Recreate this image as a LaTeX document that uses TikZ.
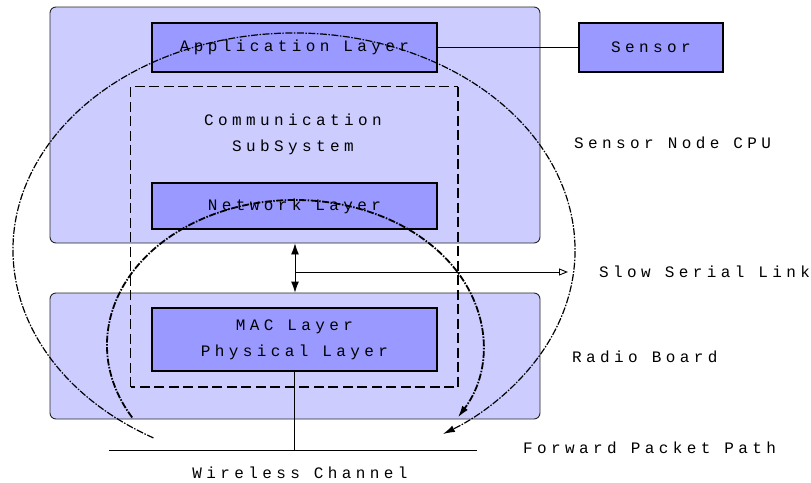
\documentclass[tikz,border=0pt]{standalone}
\usepackage{fontspec}
\newfontfamily\lblfont[LetterSpace=27.5]{Liberation Mono}
\usetikzlibrary{arrows.meta}
\definecolor{boardfill}{RGB}{204,204,255}
\definecolor{layerfill}{RGB}{153,153,255}

\begin{document}
\begin{tikzpicture}[x=1pt,y=-1pt,
  every node/.style={font=\lblfont\fontsize{16}{26}\selectfont, inner sep=0pt},
  board/.style={draw=black!85, line width=0.9pt, fill=boardfill, rounded corners=6pt,
    minimum width=490pt},
  layer/.style={draw=black, line width=1.2pt, fill=layerfill, minimum width=285pt, align=center},
  plain/.style={draw=black, line width=0.9pt},
  subsys/.style={line width=0.9pt, dash pattern=on 10pt off 4.5pt},
  subsysheavy/.style={line width=2pt, dash pattern=on 10pt off 4.5pt},
  pathwide/.style={line width=1.2pt, dash pattern=on 7pt off 1.5pt on 1.5pt off 1.5pt,
    -{Latex[length=12pt,width=7pt]}},
  pathnarrow/.style={line width=1.8pt, dash pattern=on 7pt off 1.5pt on 1.5pt off 1.5pt,
    -{Latex[length=12pt,width=7pt]}},
  biarrow/.style={plain, {Latex[length=11pt,width=8pt]}-{Latex[length=11pt,width=8pt]}},
]
\useasboundingbox (0,0) rectangle (811,482);

% boards
\node[board, minimum height=236pt] (cpu) at (295,125) {};
\node[board, minimum height=126pt] (radio) at (295,356) {};

% layers
\node[layer, minimum height=49pt] (app) at (294.5,47.5) {Application Layer};
\node[layer, minimum height=46pt] (net) at (294.5,206) {Network Layer};
\node[layer, minimum height=63pt] (mac) at (294.5,339.5) {MAC Layer\\Physical Layer};
\node[layer, minimum height=49pt, minimum width=144pt] (sensor) at (651,47.5) {Sensor};

% communication subsystem frame
\node[minimum width=327pt, minimum height=300pt] (comm) at (294.5,237) {};
\node[align=center] (commlbl) at (293,134) {Communication\\SubSystem};
\draw[subsys] (comm.south west) |- (comm.north east);
\draw[subsysheavy] (comm.north east) |- (comm.south west);

% side labels
\node[anchor=west] (cpulbl) at (574,143) {Sensor Node CPU};
\node[anchor=west] (seriallbl) at (599,272) {Slow Serial Link};
\node[anchor=west] (radiolbl) at (572,357) {Radio Board};
\node[anchor=west] (fwdlbl) at (523,448) {Forward Packet Path};
\node (chanlbl) at (300,473) {Wireless Channel};

% connectors
\draw[plain] (app.east) -- (sensor.west);
\draw[biarrow] (cpu.south) -- (radio.north);
\coordinate (tap) at (295,272);
\coordinate (serialend) at (568,272);
\draw[plain, -{Triangle[open,length=9pt,width=7pt]}] (tap) -- (serialend);

\coordinate (chanL) at (109,450);
\coordinate (chanR) at (477,450);
\draw[plain] (chanL) -- (chanR);
\draw[plain] (mac.south) -- (mac.south |- chanL);

% forward packet paths
\coordinate (wide) at (294,250);
\coordinate (narrow) at (295,345);
\draw[pathwide] (wide) ++(120:281 and 217)
  arc[start angle=120, end angle=418, x radius=281, y radius=217];
\draw[pathnarrow] (narrow) ++(150:188 and 145)
  arc[start angle=150, end angle=390, x radius=188, y radius=145];
\end{tikzpicture}
\end{document}
